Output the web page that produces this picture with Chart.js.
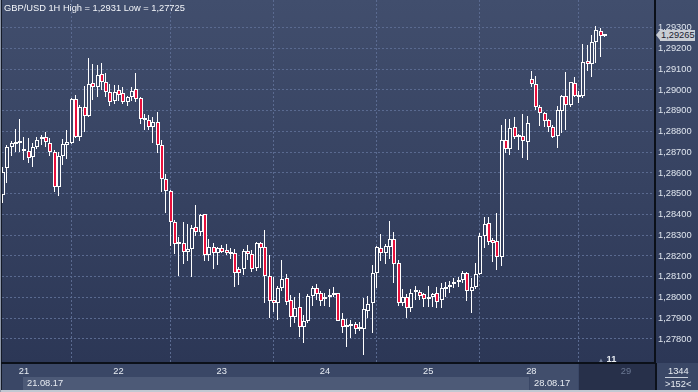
<!DOCTYPE html>
<html lang="en">
<head>
<meta charset="UTF-8">
<title>GBP/USD 1H</title>
<script src="https://cdn.jsdelivr.net/npm/chart.js@4"></script>
<style>
    body { margin: 0; background: #2e3956; }
    #wrap { position: relative; width: 698px; height: 392px; overflow: hidden;
            font-family: "Liberation Sans", Arial, sans-serif; font-size: 9.3px; color: #e8ecf2; }
    .bg { position: absolute; }
    .txt { position: absolute; white-space: nowrap; line-height: 10px; }
    #box { position: absolute; left: 0; top: 0; width: 698px; height: 392px; }
    #tag { position: absolute; left: 660px; width: 35px; height: 11px; background: #c9cdd4;
           color: #1a2133; line-height: 11px; padding-left: 1px; box-sizing: border-box; }
    #tag::before { content: ""; position: absolute; left: -4px; top: 0; width: 0; height: 0;
           border-top: 5.5px solid transparent; border-bottom: 5.5px solid transparent; border-right: 4px solid #c9cdd4; }
</style>
</head>
<body>
<div id="wrap">
    <div class="bg" style="left:0;top:0;width:698px;height:363px;background:linear-gradient(to bottom,#414e6d,#2c3756);"></div>
    <div class="bg" style="left:0;top:363px;width:698px;height:27px;background:#3a4766;"></div>
    <div class="bg" style="left:23px;top:377px;width:506px;height:13px;background:#4d5a77;"></div>
    <div class="bg" style="left:530px;top:364px;width:48px;height:26px;background:#414e6c;"></div>
    <div class="bg" style="left:579px;top:364px;width:76px;height:26px;background:#27304a;"></div>
    <div class="bg" style="left:655px;top:363px;width:2px;height:27px;background:#0c111b;"></div>
    <div class="bg" style="left:665px;top:377px;width:23px;height:1px;background:#c9d0dc;"></div>
    <div class="bg" style="left:0;top:390px;width:698px;height:2px;background:#c2c8d2;"></div>
    <div class="bg" style="left:0;top:0;width:1px;height:392px;background:#8e97a8;"></div>
    <div class="bg" style="left:1px;top:0;width:1px;height:390px;background:#151b28;"></div>

    <div id="box"><canvas id="chart"></canvas></div>

    <div class="txt" id="title" style="left:4px;top:3px;color:#f4f6fa;"></div>
    <div id="tag"></div>
    <div class="txt" style="left:598px;top:354px;"><span style="font-size:6px;color:#7a87a3;">&#9650;</span> <b>11</b></div>
    <div class="txt" style="left:27px;top:378px;">21.08.17</div>
    <div class="txt" style="left:534px;top:378px;">28.08.17</div>
    <div class="txt" style="left:668px;top:366px;">1344</div>
    <div class="txt" style="left:665px;top:379px;">&gt;152&lt;</div>
</div>

<script>
    // hourly candles, GBP/USD
    const opens = [
        1.28494, 1.28626, 1.28724, 1.28740, 1.28746, 1.28705, 1.28706, 1.28676, 1.28727, 1.28762,
        1.28772, 1.28746, 1.28703, 1.28534, 1.28683, 1.28736, 1.28746, 1.28955, 1.28772, 1.28917,
        1.28876, 1.29032, 1.29013, 1.29077, 1.29037, 1.28989, 1.28948, 1.28999, 1.28984, 1.28944,
        1.28968, 1.29003, 1.28963, 1.28854, 1.28855, 1.28820, 1.28847, 1.28735, 1.28570, 1.28515,
        1.28362, 1.28256, 1.28261, 1.28218, 1.28235, 1.28338, 1.28314, 1.28401, 1.28203, 1.28242,
        1.28213, 1.28237, 1.28229, 1.28219, 1.28213, 1.28137, 1.28136, 1.28224, 1.28208, 1.28141,
        1.28264, 1.28242, 1.28105, 1.27988, 1.27972, 1.28044, 1.28092, 1.27988, 1.27907, 1.27953,
        1.27856, 1.27888, 1.28006, 1.28046, 1.28020, 1.27991, 1.28004, 1.28010, 1.28020, 1.27896,
        1.27859, 1.27862, 1.27872, 1.27849, 1.27847, 1.27936, 1.27972, 1.28117, 1.28237, 1.28216,
        1.28245, 1.28280, 1.28165, 1.27972, 1.28004, 1.27948, 1.28025, 1.28028, 1.28017, 1.27994,
        1.28001, 1.28020, 1.27988, 1.28042, 1.28049, 1.28064, 1.28073, 1.28084, 1.28117, 1.28033,
        1.28052, 1.28113, 1.28296, 1.28358, 1.28277, 1.28272, 1.28197, 1.28759, 1.28714, 1.28820,
        1.28772, 1.28778, 1.28751, 1.29052, 1.29027, 1.28920, 1.28888, 1.28855, 1.28820, 1.28780,
        1.28900, 1.28971, 1.28928, 1.29032, 1.28968, 1.28971, 1.29138, 1.29124, 1.29233, 1.29284,
        1.29260
    ];
    const highs = [
        1.28629, 1.28735, 1.28756, 1.28811, 1.28859, 1.28772, 1.28767, 1.28743, 1.28772, 1.28783,
        1.28799, 1.28767, 1.28711, 1.28703, 1.28762, 1.28807, 1.28961, 1.28976, 1.28928, 1.29019,
        1.29153, 1.29125, 1.29121, 1.29129, 1.29083, 1.29027, 1.29024, 1.29024, 1.29016, 1.28973,
        1.29016, 1.29081, 1.28968, 1.28884, 1.28880, 1.28871, 1.28895, 1.28759, 1.28595, 1.28518,
        1.28373, 1.28290, 1.28364, 1.28354, 1.28351, 1.28446, 1.28402, 1.28402, 1.28282, 1.28261,
        1.28245, 1.28253, 1.28256, 1.28237, 1.28232, 1.28148, 1.28232, 1.28253, 1.28229, 1.28269,
        1.28269, 1.28325, 1.28205, 1.28100, 1.28055, 1.28181, 1.28113, 1.28012, 1.28004, 1.28020,
        1.27916, 1.28017, 1.28053, 1.28065, 1.28033, 1.28020, 1.28039, 1.28049, 1.28023, 1.27924,
        1.27895, 1.27891, 1.27883, 1.27883, 1.27999, 1.28007, 1.28157, 1.28248, 1.28306, 1.28258,
        1.28369, 1.28316, 1.28181, 1.28039, 1.28015, 1.28039, 1.28055, 1.28036, 1.28023, 1.28055,
        1.28023, 1.28049, 1.28071, 1.28076, 1.28081, 1.28092, 1.28097, 1.28129, 1.28124, 1.28095,
        1.28168, 1.28312, 1.28389, 1.28389, 1.28285, 1.28409, 1.28831, 1.28859, 1.28859, 1.28871,
        1.28788, 1.28884, 1.28875, 1.29093, 1.29067, 1.28928, 1.28895, 1.28859, 1.28831, 1.28923,
        1.28976, 1.29088, 1.29040, 1.29061, 1.28997, 1.29222, 1.29217, 1.29265, 1.29310, 1.29297,
        1.29267
    ];
    const lows = [
        1.28455, 1.28552, 1.28682, 1.28703, 1.28703, 1.28663, 1.28650, 1.28630, 1.28716, 1.28735,
        1.28727, 1.28682, 1.28510, 1.28489, 1.28639, 1.28666, 1.28742, 1.28767, 1.28756, 1.28799,
        1.28871, 1.28952, 1.28965, 1.29000, 1.28965, 1.28923, 1.28933, 1.28948, 1.28933, 1.28923,
        1.28948, 1.28944, 1.28836, 1.28807, 1.28807, 1.28743, 1.28695, 1.28510, 1.28409, 1.28250,
        1.28210, 1.28103, 1.28161, 1.28177, 1.28100, 1.28296, 1.28296, 1.28177, 1.28177, 1.28136,
        1.28158, 1.28213, 1.28205, 1.28184, 1.28049, 1.28060, 1.28108, 1.28181, 1.28124, 1.28129,
        1.28141, 1.27975, 1.27900, 1.27929, 1.27891, 1.28031, 1.27964, 1.27856, 1.27876, 1.27808,
        1.27782, 1.27878, 1.27959, 1.27988, 1.27959, 1.27959, 1.27955, 1.28004, 1.27885, 1.27827,
        1.27763, 1.27803, 1.27824, 1.27840, 1.27725, 1.27900, 1.27830, 1.28044, 1.28177, 1.28161,
        1.28184, 1.28071, 1.27959, 1.27959, 1.27900, 1.27931, 1.27988, 1.27988, 1.27955, 1.27955,
        1.27955, 1.27948, 1.27948, 1.28004, 1.28023, 1.28044, 1.28049, 1.28068, 1.27984, 1.27927,
        1.28039, 1.28110, 1.28237, 1.28253, 1.28172, 1.28132, 1.28152, 1.28695, 1.28687, 1.28762,
        1.28711, 1.28671, 1.28663, 1.29013, 1.28904, 1.28826, 1.28820, 1.28799, 1.28767, 1.28722,
        1.28791, 1.28807, 1.28917, 1.28965, 1.28939, 1.28960, 1.29093, 1.29061, 1.29129, 1.29158,
        1.29257
    ];
    const closes = [
        1.28605, 1.28724, 1.28743, 1.28749, 1.28756, 1.28711, 1.28671, 1.28727, 1.28759, 1.28772,
        1.28751, 1.28700, 1.28531, 1.28683, 1.28738, 1.28748, 1.28957, 1.28772, 1.28917, 1.28876,
        1.29029, 1.29013, 1.29071, 1.29037, 1.28989, 1.28944, 1.28992, 1.28974, 1.28944, 1.28965,
        1.28997, 1.28957, 1.28859, 1.28859, 1.28820, 1.28847, 1.28735, 1.28570, 1.28515, 1.28362,
        1.28256, 1.28261, 1.28218, 1.28232, 1.28333, 1.28314, 1.28398, 1.28203, 1.28242, 1.28213,
        1.28237, 1.28221, 1.28213, 1.28208, 1.28117, 1.28117, 1.28225, 1.28208, 1.28136, 1.28261,
        1.28237, 1.28105, 1.27984, 1.27972, 1.28047, 1.28088, 1.27980, 1.27907, 1.27948, 1.27856,
        1.27888, 1.28007, 1.28046, 1.28017, 1.27984, 1.28001, 1.28010, 1.28023, 1.27888, 1.27859,
        1.27867, 1.27867, 1.27848, 1.27858, 1.27943, 1.27969, 1.28117, 1.28242, 1.28216, 1.28248,
        1.28280, 1.28160, 1.27972, 1.28004, 1.27948, 1.28023, 1.28031, 1.28007, 1.27993, 1.28001,
        1.28017, 1.27980, 1.28044, 1.28049, 1.28055, 1.28068, 1.28084, 1.28117, 1.28033, 1.28049,
        1.28113, 1.28296, 1.28354, 1.28269, 1.28264, 1.28194, 1.28759, 1.28714, 1.28815, 1.28772,
        1.28780, 1.28756, 1.28839, 1.29027, 1.28917, 1.28888, 1.28852, 1.28820, 1.28775, 1.28904,
        1.28971, 1.28928, 1.29037, 1.28971, 1.28976, 1.29136, 1.29124, 1.29233, 1.29289, 1.29260,
        1.29265
    ];

    // x axis: candle index of each day start, and its label
    const dayTicks = [5, 27, 51, 75, 99, 123, 145];
    const dayLabels = ['21', '22', '23', '24', '25', '28', '29'];
    const futureDay = '29';
    const priceTicks = [1.278, 1.279, 1.280, 1.281, 1.282, 1.283, 1.284, 1.285,
                        1.286, 1.287, 1.288, 1.289, 1.290, 1.291, 1.292, 1.293];

    const xMin = -0.1, xMax = 151.76;
    const yMin = 1.276843, yMax = 1.294337;

    const fmt = v => String(v).replace('.', ',');
    document.getElementById('title').textContent =
        'GBP/USD 1H High = ' + fmt(Math.max(...highs)) + ' Low = ' + fmt(Math.min(...lows));

    const wicks = highs.map((h, i) => ({ x: i, y: [lows[i], h] }));
    const bodies = opens.map((o, i) => ({ x: i, y: [o, closes[i]] }));

    const RED = '#e8103c';
    const FONT = { family: '"Liberation Sans", Arial, sans-serif', size: 9.3 };
    const GRID = '#5a6a90';

    let bgGrad = null;
    function hollow(chart) {
        if (!bgGrad) {
            bgGrad = chart.ctx.createLinearGradient(0, 0, 0, 363);
            bgGrad.addColorStop(0, '#414e6d');
            bgGrad.addColorStop(1, '#2c3756');
        }
        return bgGrad;
    }

    // put bars on whole pixels so the thin wicks stay sharp;
    // the 4px bodies are centred on a pixel edge, the 1px wick sits in their 2nd column
    const snapBars = {
        id: 'snapBars',
        afterDatasetsUpdate(chart) {
            chart.getSortedVisibleDatasetMetas().forEach(meta => {
                const shift = meta.index === 0 ? 1 : 0.5;
                meta.data.forEach(bar => {
                    bar.x = Math.floor(bar.x) + shift;
                    bar.y = Math.round(bar.y);
                    bar.base = Math.round(bar.base);
                });
            });
        }
    };

    const placeTag = {
        id: 'placeTag',
        afterRender(chart) {
            const last = closes[closes.length - 1];
            const tag = document.getElementById('tag');
            tag.textContent = last.toFixed(5).replace('.', ',');
            tag.style.top = (chart.scales.y.getPixelForValue(last) - 5.5) + 'px';
        }
    };

    new Chart(document.getElementById('chart'), {
        type: 'bar',
        data: {
            datasets: [
                {
                    label: 'body',
                    data: bodies,
                    order: 0,
                    grouped: false,
                    barThickness: 4,
                    minBarLength: 2,
                    borderWidth: 1,
                    borderSkipped: false,
                    inflateAmount: 0,
                    borderColor: '#ffffff',
                    backgroundColor: c => closes[c.dataIndex] < opens[c.dataIndex] ? RED : hollow(c.chart)
                },
                {
                    label: 'wick',
                    data: wicks,
                    order: 1,
                    grouped: false,
                    barThickness: 1,
                    borderWidth: 0,
                    inflateAmount: 0,
                    backgroundColor: '#ffffff'
                }
            ]
        },
        options: {
            animation: false,
            responsive: true,
            maintainAspectRatio: false,
            events: [],
            layout: { padding: { left: 2, top: 0, right: 0, bottom: 0 } },
            plugins: {
                legend: { display: false },
                tooltip: { enabled: false }
            },
            scales: {
                x: {
                    type: 'linear',
                    min: xMin,
                    max: xMax,
                    offset: false,
                    bounds: 'data',
                    afterBuildTicks: s => { s.ticks = dayTicks.map(v => ({ value: v })); },
                    afterFit: s => { s.height = 29; s.paddingLeft = 0; s.paddingRight = 0; },
                    grid: { color: GRID, lineWidth: 1, drawTicks: false },
                    border: { display: true, color: '#0b1019', width: 2, dash: [2, 2] },
                    ticks: {
                        autoSkip: false,
                        maxRotation: 0,
                        padding: 3,
                        font: FONT,
                        color: c => dayLabels[c.index] === futureDay ? '#6b7893' : '#e6ebf2',
                        callback: (v, i) => dayLabels[i]
                    }
                },
                y: {
                    position: 'right',
                    min: yMin,
                    max: yMax,
                    bounds: 'data',
                    afterBuildTicks: s => { s.ticks = priceTicks.map(v => ({ value: v })); },
                    afterFit: s => { s.width = 43; s.paddingTop = 0; s.paddingBottom = 0; },
                    grid: { color: GRID, lineWidth: 1, drawTicks: false },
                    border: { display: true, color: '#0b1019', width: 2, dash: [2, 2] },
                    ticks: {
                        padding: 3,
                        font: FONT,
                        color: '#dfe5ee',
                        callback: v => v.toFixed(5).replace('.', ',')
                    }
                }
            }
        },
        plugins: [snapBars, placeTag]
    });
</script>
</body>
</html>
